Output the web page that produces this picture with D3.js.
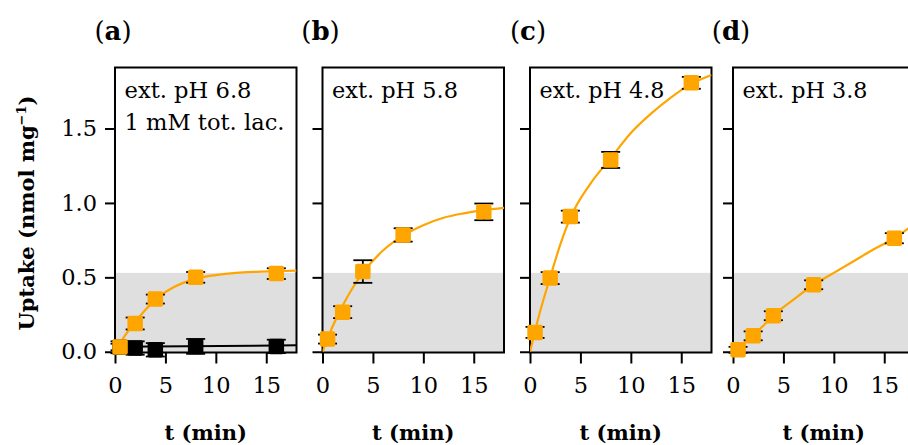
<!DOCTYPE html>
<html>
<head>
<meta charset="utf-8">
<script src="https://cdn.jsdelivr.net/npm/d3@7"></script>
<style>
  html, body { margin: 0; padding: 0; background: #fff; }
  svg { display: block; }
  text { font-family: "DejaVu Serif", serif; fill: #000; }
</style>
</head>
<body>
<svg id="chart" width="908" height="445"></svg>
<script>
// ---------------- data ----------------
const times = [0.5, 2, 4, 8, 16];
const panelLabels = ["a", "b", "c", "d"];
const panelNotes = [["ext. pH 6.8", "1 mM tot. lac."], ["ext. pH 5.8"], ["ext. pH 4.8"], ["ext. pH 3.8"]];

const uptakeA = [0.032, 0.19, 0.354, 0.50, 0.525];
const errA    = [0.022, 0.04, 0.03, 0.036, 0.036];
const controlA    = [0.03, 0.025, 0.013, 0.036, 0.036];
const controlErrA = [0.04, 0.045, 0.045, 0.05, 0.045];
const uptakeB = [0.085, 0.266, 0.539, 0.785, 0.94];
const errB    = [0.03, 0.04, 0.076, 0.045, 0.056];
const uptakeC = [0.13, 0.495, 0.908, 1.289, 1.807];
const errC    = [0.037, 0.04, 0.04, 0.054, 0.04];
const uptakeD = [0.013, 0.107, 0.242, 0.45, 0.763];
const errD    = [0.02, 0.03, 0.03, 0.03, 0.034];

const fitT = [0, 1, 2, 3, 4, 6, 8, 10, 12, 14, 16, 18];
const fitA = [0, 0.11, 0.2, 0.28, 0.35, 0.44, 0.49, 0.515, 0.53, 0.537, 0.541, 0.545];
const fitB = [0, 0.17, 0.31, 0.43, 0.53, 0.68, 0.78, 0.85, 0.90, 0.93, 0.952, 0.967];
const fitC = [0, 0.27, 0.5, 0.72, 0.9, 1.13, 1.3, 1.47, 1.6, 1.71, 1.8, 1.86];
const fitD = [0, 0.05, 0.11, 0.175, 0.242, 0.35, 0.45, 0.53, 0.61, 0.69, 0.763, 0.86];
const fitControlT = [0, 18];
const fitControlA = [0.033, 0.043];

const shadeLevel = 0.53;
const xTicks = [0, 5, 10, 15];
const yTicks = [0, 0.5, 1.0, 1.5];

// ---------------- layout ----------------
const panelLeft = [115, 322.5, 530, 733];
const panelW = 181.5;
const plotTop = 67.5, plotBottom = 352.5;
const orange = "#ffa500";
const noteWidths = [[127, 160], [126], [125], [125]];

const svg = d3.select("#chart");
const y = d3.scaleLinear().domain([-0.005, 1.91]).range([plotBottom, plotTop]);

const panels = [
  { up: uptakeA, err: errA, fit: fitA },
  { up: uptakeB, err: errB, fit: fitB },
  { up: uptakeC, err: errC, fit: fitC },
  { up: uptakeD, err: errD, fit: fitD }
];

const defs = svg.append("defs");

panels.forEach((p, i) => {
  const x = d3.scaleLinear().domain([0, 18]).range([panelLeft[i], panelLeft[i] + panelW]);
  const g = svg.append("g");

  defs.append("clipPath").attr("id", "clip" + i)
    .append("rect").attr("x", x(0)).attr("y", plotTop).attr("width", panelW).attr("height", plotBottom - plotTop);

  // shaded band
  g.append("rect")
    .attr("x", x(0)).attr("width", x(18) - x(0))
    .attr("y", y(shadeLevel)).attr("height", y(0) - y(shadeLevel) + 0.5)
    .attr("fill", "#dfdfdf");

  // axes
  const ya = d3.axisLeft(y).tickValues(yTicks).tickSize(10).tickPadding(8)
    .tickFormat(i === 0 ? d3.format(".1f") : () => "");
  const yg = g.append("g").attr("transform", `translate(${x(0)},0)`).call(ya);
  yg.select(".domain").remove();
  yg.selectAll("line").attr("stroke", "#000").attr("stroke-width", 2);
  yg.selectAll("text").attr("font-size", 22.5).attr("font-family", "DejaVu Serif").attr("fill", "#000");

  const xa = d3.axisBottom(x).tickValues(xTicks).tickSize(11).tickPadding(14).tickFormat(d3.format("d"));
  const xg = g.append("g").attr("transform", `translate(0,${plotBottom})`).call(xa);
  xg.select(".domain").remove();
  xg.selectAll("line").attr("stroke", "#000").attr("stroke-width", 2);
  xg.selectAll("text").attr("font-size", 22.5).attr("font-family", "DejaVu Serif").attr("fill", "#000");

  // box
  g.append("rect")
    .attr("x", x(0)).attr("y", plotTop).attr("width", panelW).attr("height", plotBottom - plotTop)
    .attr("fill", "none").attr("stroke", "#000").attr("stroke-width", 2);

  // fit curves
  const line = d3.line().x(d => x(d[0])).y(d => y(d[1])).curve(d3.curveMonotoneX);
  const curves = g.append("g").attr("clip-path", `url(#clip${i})`);
  if (i === 0) {
    curves.append("path")
      .attr("d", line(fitControlT.map((t, k) => [t, fitControlA[k]])))
      .attr("fill", "none").attr("stroke", "#000").attr("stroke-width", 2);
  }
  curves.append("path")
    .attr("d", line(fitT.map((t, k) => [t, p.fit[k]])))
    .attr("fill", "none").attr("stroke", orange).attr("stroke-width", 2.2);

  // points with error bars
  function drawSeries(vals, errs, color) {
    const pts = times.map((t, k) => ({ t, v: vals[k], e: errs[k] }));
    const eg = g.append("g");
    pts.forEach(d => {
      const cx = x(d.t);
      eg.append("line").attr("x1", cx).attr("x2", cx).attr("y1", y(d.v - d.e)).attr("y2", y(d.v + d.e))
        .attr("stroke", "#000").attr("stroke-width", 1.8);
      [d.v - d.e, d.v + d.e].forEach(v => {
        eg.append("line").attr("x1", cx - 9.5).attr("x2", cx + 9.5).attr("y1", y(v)).attr("y2", y(v))
          .attr("stroke", "#000").attr("stroke-width", 1.8);
      });
    });
    g.append("g").selectAll("rect").data(pts).join("rect")
      .attr("x", d => x(d.t) - 7.75).attr("y", d => y(d.v) - 7.75)
      .attr("width", 15.5).attr("height", 15.5).attr("rx", 2)
      .attr("fill", color);
  }
  if (i === 0) drawSeries(controlA, controlErrA, "#000");
  drawSeries(p.up, p.err, orange);

  // notes
  panelNotes[i].forEach((s, k) => {
    g.append("text").attr("x", x(0) + 9.5).attr("y", 98 + k * 32)
      .attr("font-size", 23)
      .attr("textLength", noteWidths[i][k]).attr("lengthAdjust", "spacingAndGlyphs")
      .text(s);
  });

  // panel label
  const lab = g.append("text").attr("x", x(0) - 2).attr("y", 40)
    .attr("text-anchor", "middle").attr("font-size", 26);
  lab.append("tspan").text("(");
  lab.append("tspan").attr("font-weight", "bold").text(panelLabels[i]);
  lab.append("tspan").text(")");

  // x label
  g.append("text").attr("x", x(0) + panelW / 2).attr("y", 440)
    .attr("text-anchor", "middle").attr("font-size", 21).attr("font-weight", "bold")
    .text("t (min)");
});

// y label
const yl = svg.append("text")
  .attr("transform", "translate(34,213) rotate(-90)")
  .attr("text-anchor", "middle").attr("font-size", 21).attr("font-weight", "bold");
yl.append("tspan").text("Uptake (nmol mg");
yl.append("tspan").attr("font-size", 13).attr("dy", -8).text("−1");
yl.append("tspan").attr("dy", 8).text(")");
</script>
</body>
</html>
